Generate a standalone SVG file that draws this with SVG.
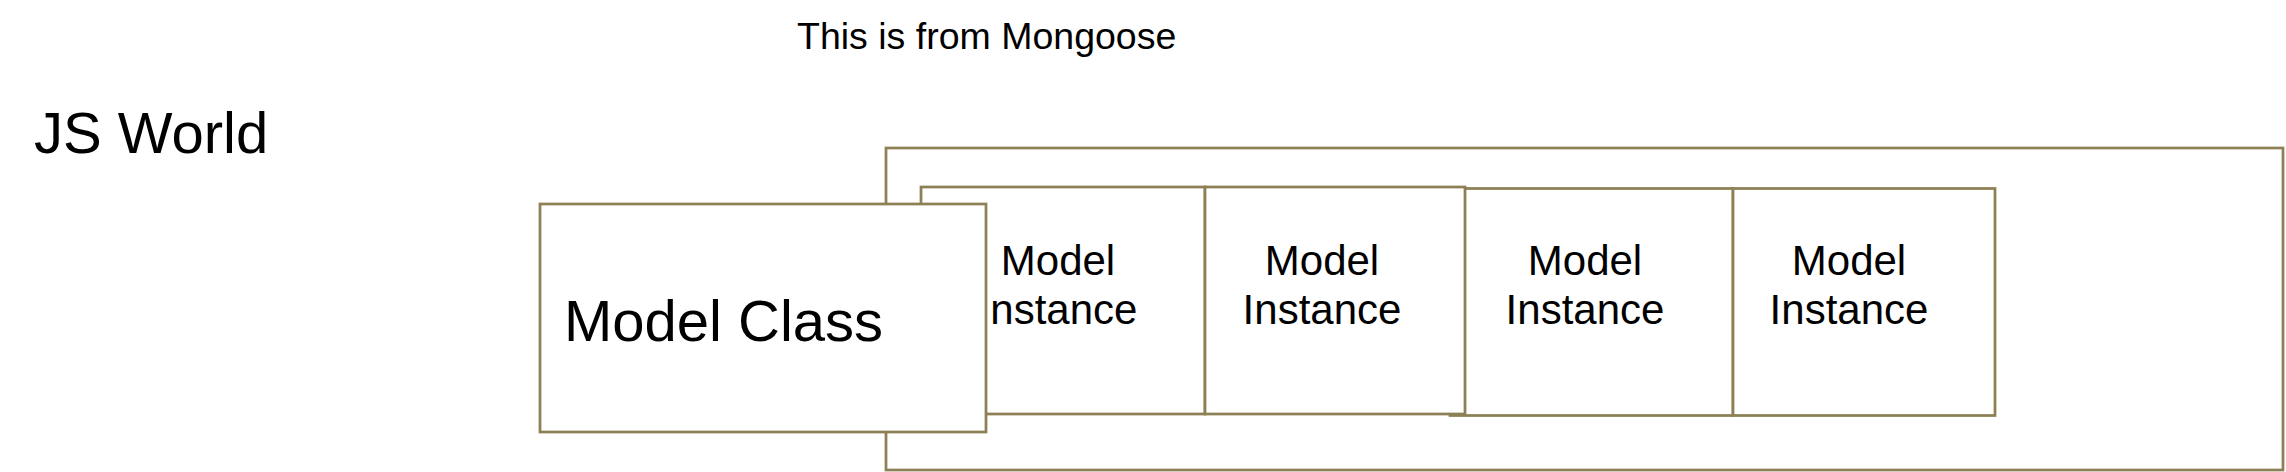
<svg xmlns="http://www.w3.org/2000/svg" width="2286" height="472" viewBox="0 0 2286 472">
<style>
.box{fill:#ffffff;stroke:#8c8054;stroke-width:2.75}
.t{font-family:"Liberation Sans",Arial,sans-serif;fill:#000000}
.inst{font-size:42px;text-anchor:middle}
</style>
<rect width="2286" height="472" fill="#ffffff"/>
<g id="title"><text class="t" x="797" y="49" font-size="37.5">This is from Mongoose</text></g>
<g id="js-world"><text class="t" x="34" y="153" font-size="58">JS World</text></g>
<g id="collection"><rect class="box" x="886" y="148" width="1397" height="322"/></g>
<g id="instance3"><rect class="box" x="1450" y="188.5" width="283" height="227"/><text class="t inst" x="1585" y="275">Model</text><text class="t inst" x="1585" y="324">Instance</text></g>
<g id="instance4"><rect class="box" x="1733" y="188.5" width="262" height="227"/><text class="t inst" x="1849" y="275">Model</text><text class="t inst" x="1849" y="324">Instance</text></g>
<g id="instance1"><rect class="box" x="921" y="187" width="284" height="227"/><text class="t inst" x="1058" y="275">Model</text><text class="t inst" x="1058" y="324">Instance</text></g>
<g id="instance2"><rect class="box" x="1205" y="187" width="260" height="227"/><text class="t inst" x="1322" y="275">Model</text><text class="t inst" x="1322" y="324">Instance</text></g>
<g id="model-class"><rect class="box" x="540" y="204" width="446" height="228"/><text class="t" x="564" y="341" font-size="58">Model Class</text></g>
<g id="connectors"/>
</svg>
